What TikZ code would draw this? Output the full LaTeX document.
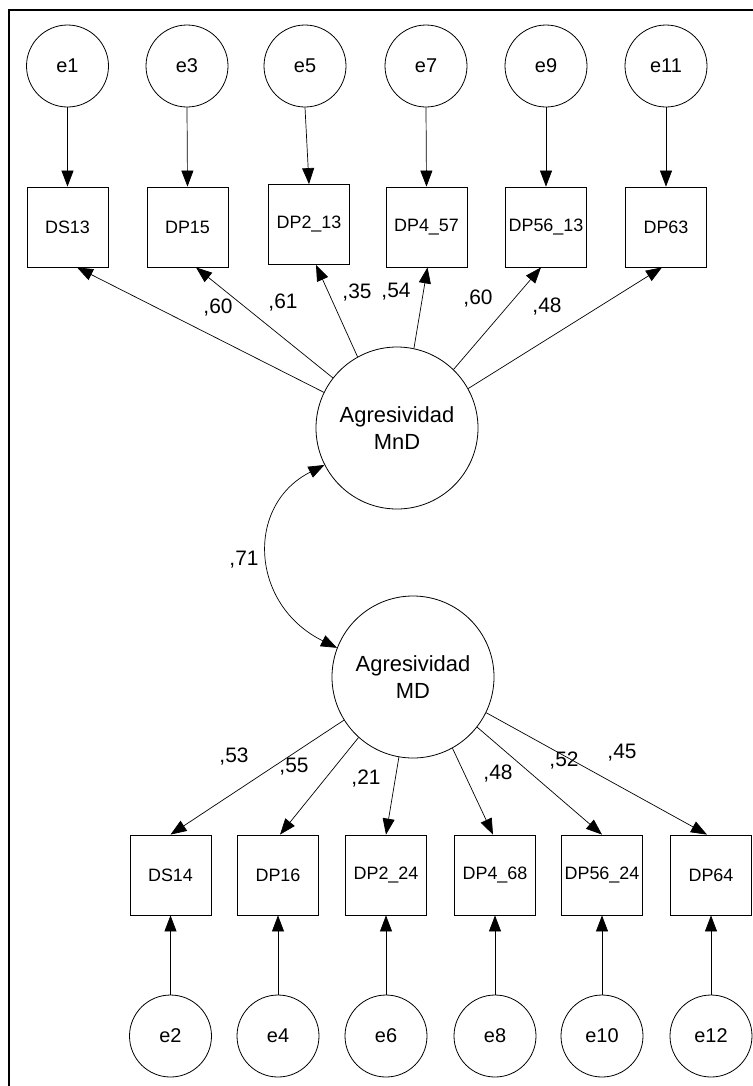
\documentclass[tikz,border=0pt]{standalone}
\usepackage{fontspec}
\setmainfont{Liberation Sans}
\usetikzlibrary{arrows.meta}
\tikzset{
  obs/.style={draw, rectangle, minimum width=81bp, minimum height=80bp, inner sep=0pt, line width=0.8bp, font=\fontsize{18}{20}\selectfont},
  err/.style={draw, circle, minimum size=82bp, inner sep=0pt, line width=0.8bp, font=\fontsize{20}{22}\selectfont},
  lat/.style={draw, circle, minimum size=162bp, inner sep=0pt, line width=0.8bp, align=center, font=\fontsize{22}{28}\selectfont},
  lbl/.style={inner sep=0pt, font=\fontsize{21}{24}\selectfont},
  arr/.style={-{Triangle[length=16bp,width=12bp]}, line width=0.7bp},
  biarr/.style={{Triangle[length=16bp,width=12bp]}-{Triangle[length=16bp,width=12bp]}, line width=0.7bp}
}
\begin{document}
\begin{tikzpicture}[x=1bp,y=-1bp]
\useasboundingbox (0,0) rectangle (753,1086);
\draw[line width=1.5bp] (9,1086) -- (9,10) -- (753,10);
% top error terms
\node[err] (e1) at (67.5,66) {e1};
\node[err] (e3) at (187,66) {e3};
\node[err] (e5) at (305,66) {e5};
\node[err] (e7) at (426,66) {e7};
\node[err] (e9) at (546,66) {e9};
\node[err] (e11) at (666,66) {e11};
% top indicators
\node[obs] (DS13) at (67.5,227) {DS13};
\node[obs] (DP15) at (187.5,227) {DP15};
\node[obs] (DP213) at (309,224.5) {DP2\_13};
\node[obs] (DP457) at (426.5,227) {DP4\_57};
\node[obs] (DP5613) at (546,227) {DP56\_13};
\node[obs] (DP63) at (666,227) {DP63};
% latents
\node[lat] (MnD) at (397,428) {Agresividad\\MnD};
\node[lat] (MD) at (413,677) {Agresividad\\MD};
% bottom indicators
\node[obs] (DS14) at (170.5,875) {DS14};
\node[obs] (DP16) at (278,875) {DP16};
\node[obs] (DP224) at (386,875) {DP2\_24};
\node[obs] (DP468) at (495,875) {DP4\_68};
\node[obs] (DP5624) at (602,875) {DP56\_24};
\node[obs] (DP64) at (711,875) {DP64};
% bottom error terms
\node[err] (e2) at (170.5,1036) {e2};
\node[err] (e4) at (278,1036) {e4};
\node[err] (e6) at (386,1036) {e6};
\node[err] (e8) at (495,1036) {e8};
\node[err] (e10) at (602,1036) {e10};
\node[err] (e12) at (711,1036) {e12};
% error arrows top
\draw[arr] (e1.south) -- (DS13.north);
\draw[arr] (e3.south) -- (DP15.north);
\draw[arr] (e5.south) -- (DP213.north);
\draw[arr] (e7.south) -- (DP457.north);
\draw[arr] (e9.south) -- (DP5613.north);
\draw[arr] (e11.south) -- (DP63.north);
% error arrows bottom
\draw[arr] (e2.north) -- (DS14.south);
\draw[arr] (e4.north) -- (DP16.south);
\draw[arr] (e6.north) -- (DP224.south);
\draw[arr] (e8.north) -- (DP468.south);
\draw[arr] (e10.north) -- (DP5624.south);
\draw[arr] (e12.north) -- (DP64.south);
% loadings MnD
\draw[arr] (MnD.154) -- ([xshift=9.5bp]DS13.south);
\draw[arr] (MnD.142) -- ([xshift=8.5bp]DP15.south);
\draw[arr] (MnD.119) -- ([xshift=7bp]DP213.south);
\draw[arr] (MnD.78) -- ([xshift=1bp]DP457.south);
\draw[arr] (MnD.46) -- ([xshift=-5bp]DP5613.south);
\draw[arr] (MnD.29) -- ([xshift=-4bp]DP63.south);
% loadings MD
\draw[arr] (MD.212) -- (DS14.north);
\draw[arr] (MD.228) -- ([xshift=2bp]DP16.north);
\draw[arr] (MD.260) -- (DP224.north);
\draw[arr] (MD.299) -- ([xshift=-2bp]DP468.north);
\draw[arr] (MD.322) -- (DP5624.north);
\draw[arr] (MD.334) -- ([xshift=-4bp]DP64.north);
% covariance
\draw[biarr] (MnD.207) .. controls (245,505) and (250,605) .. (MD.159);
% labels
\node[lbl] (l1) at (218,308) {,60};
\node[lbl] (l2) at (283,303) {,61};
\node[lbl] (l3) at (357,293) {,35};
\node[lbl] (l4) at (396,292) {,54};
\node[lbl] (l5) at (478,299) {,60};
\node[lbl] (l6) at (547,307) {,48};
\node[lbl] (lc) at (244,560) {,71};
\node[lbl] (m1) at (234,757) {,53};
\node[lbl] (m2) at (294,767) {,55};
\node[lbl] (m3) at (366,779) {,21};
\node[lbl] (m4) at (498,774) {,48};
\node[lbl] (m5) at (564,761) {,52};
\node[lbl] (m6) at (622,753) {,45};
\end{tikzpicture}
\end{document}
